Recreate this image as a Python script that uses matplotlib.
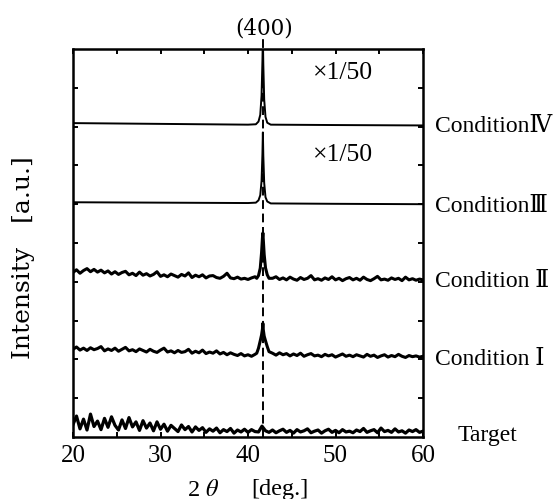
import numpy as np
import matplotlib
matplotlib.use('Agg')
import matplotlib.pyplot as plt

plt.rcParams['font.family'] = ['Liberation Serif', 'DejaVu Serif', 'Noto Sans CJK JP']
plt.rcParams['mathtext.fontset'] = 'stix'

# 2theta grid for the noisy scans (0.4 deg steps, 20..60)
gridTheta = np.arange(101) * 0.4 + 20.0

condII = [42.4, 43.1, 42.2, 42.9, 43.4, 42.6, 43.2, 42.5, 43.0, 42.3,
          42.8, 42.0, 42.6, 41.9, 42.4, 42.7, 41.8, 42.2, 41.6, 42.5,
          41.7, 42.1, 41.5, 41.9, 42.6, 41.4, 41.8, 41.3, 42.0, 41.6,
          41.2, 41.9, 41.5, 42.3, 41.1, 41.7, 41.3, 41.8, 41.0, 41.5,
          41.6, 41.1, 40.9, 41.4, 42.2, 41.0, 40.8, 41.2, 40.7, 40.9,
          40.6, 41.0, 41.3,
          40.8, 40.9, 40.7, 40.8,
          40.9, 41.3, 40.6,
          41.0, 40.5, 41.2, 40.7, 40.4, 41.1, 40.6, 40.9, 41.6, 40.5,
          40.8, 40.4, 41.0, 40.6, 41.3, 40.5, 40.9, 40.3, 40.8, 41.1,
          40.5, 40.9, 40.4, 41.2, 40.6, 40.3, 40.8, 41.4, 40.5, 40.7,
          40.4, 41.0, 40.6, 40.9, 40.3, 41.2, 40.5, 40.8, 40.4, 40.7, 40.5]

condI = [22.6, 23.2, 22.4, 22.9, 22.3, 23.0, 22.5, 22.8, 23.3, 22.2,
         22.7, 22.3, 22.9, 22.1, 22.6, 23.1, 22.2, 22.5, 22.0, 22.7,
         22.3, 21.9, 22.6, 22.1, 21.8, 22.4, 22.9, 21.9, 22.2, 21.7,
         22.3, 21.8, 22.0, 22.6, 21.6, 22.1, 21.7, 22.4, 21.5, 21.9,
         21.6, 22.2, 21.4, 21.8, 21.2, 21.7, 21.3, 21.0, 21.5, 20.9,
         21.2, 20.8, 21.3,
         22.0, 22.0, 22.0, 22.0,
         21.6, 21.1, 21.7,
         21.2, 21.5, 20.9, 21.4, 21.0, 21.6, 20.8, 21.2, 21.5, 20.9,
         21.1, 20.7, 21.3, 20.9, 21.2, 20.6, 21.0, 21.4, 20.8, 21.1,
         20.7, 21.2, 20.9, 20.6, 21.3, 20.8, 21.1, 20.5, 20.9, 21.2,
         20.6, 21.0, 20.7, 21.3, 20.8, 20.5, 21.0, 20.7, 20.9, 20.6, 20.8]

target = [3.2, 5.4, 2.1, 4.6, 1.8, 5.9, 2.7, 4.1, 1.9, 4.8,
          2.5, 5.2, 3.0, 1.8, 4.4, 2.2, 5.0, 2.6, 3.9, 1.7,
          4.2, 2.3, 3.6, 1.6, 3.9, 2.0, 3.3, 1.5, 3.0, 2.2,
          1.4, 3.1, 1.9, 2.7, 1.3, 2.6, 1.7, 2.4, 1.2, 2.1,
          1.5, 2.3, 1.1, 1.9, 1.4, 2.2, 1.0, 1.8, 1.3, 2.0,
          1.2, 1.9, 1.4,
          1.3, 2.8, 1.6, 1.2,
          1.8, 1.1, 1.6,
          2.0, 1.2, 1.7, 1.0, 1.9, 1.3, 1.6, 2.1, 1.1, 1.5,
          1.8, 1.0, 1.6, 2.0, 1.2, 1.7, 1.1, 1.9, 1.3, 1.5,
          1.1, 1.8, 1.4, 2.2, 1.2, 1.6, 1.9, 1.1, 2.3, 1.4,
          1.7, 1.2, 2.1, 1.3, 1.6, 1.0, 1.8, 1.4, 1.9, 1.2, 1.5]

# (400) peak region, finer sampling
peakTheta = [41.0, 41.2, 41.4, 41.55, 41.65, 41.7, 41.75, 41.85, 42.0, 42.2, 42.4]
peakII = [40.9, 41.6, 43.5, 47.5, 51.3, 52.6, 50.8, 47.0, 43.6, 41.8, 40.9]
peakI = [21.6, 22.9, 24.8, 26.3, 27.8, 29.3, 27.6, 26.0, 24.8, 23.3, 22.0]

# smooth scans (already scaled x1/50)
smoothTheta = [20, 30, 40, 40.9, 41.2, 41.4, 41.55, 41.65, 41.7, 41.75, 41.85, 42.0, 42.2, 42.6, 50, 60]
condIV = [80.9, 80.7, 80.5, 80.6, 81.3, 83.0, 88.0, 97.0, 103.0, 96.0, 87.0, 82.5, 81.0, 80.5, 80.4, 80.3]
condIII = [60.5, 60.4, 60.3, 60.4, 61.0, 62.3, 66.0, 73.0, 78.5, 72.5, 65.5, 61.8, 60.7, 60.2, 60.1, 60.0]

peak400 = 41.7
seriesLabels = ['Condition\u2163', 'Condition\u2162', 'Condition \u2161', 'Condition \u2160', 'Target']
xTicks = [20, 25, 30, 35, 40, 45, 50, 55, 60]
xTickLabels = ['20', '', '30', '', '40', '', '50', '', '60']


def withPeak(grid, values, px, py):
    # swap the coarse grid points under the peak for the fine ones
    grid = np.asarray(grid)
    values = np.asarray(values)
    keep = (grid < px[0] - 0.05) | (grid > px[-1] + 0.05)
    x = np.concatenate([grid[keep], px])
    y = np.concatenate([values[keep], py])
    order = np.argsort(x)
    return x[order], y[order]


fig = plt.figure(figsize=(5.55, 4.99), dpi=100)
ax = fig.add_axes([73/555, 62/499, 350/555, 388/499])

ax.plot(smoothTheta, condIV, color='black', lw=1.4)
ax.plot(smoothTheta, condIII, color='black', lw=1.4)
x, y = withPeak(gridTheta, condII, peakTheta, peakII)
ax.plot(x, y, color='black', lw=2.2)
x, y = withPeak(gridTheta, condI, peakTheta, peakI)
ax.plot(x, y, color='black', lw=2.2)
ax.plot(gridTheta, target, color='black', lw=2.3)

ax.plot([peak400, peak400], [0, 103.2], color='black', lw=1.4,
        dashes=(4.5, 2.4), clip_on=False)

ax.set_xlim(20, 60)
ax.set_ylim(0, 100)
ax.set_xticks(xTicks)
ax.set_xticklabels(xTickLabels, fontsize=18)
ax.set_yticks(np.arange(10, 100, 10))
ax.set_yticklabels([])
ax.tick_params(direction='in', top=True, right=True, length=3.5, width=1.4, pad=6)
for s in ax.spines.values():
    s.set_linewidth(1.8)

yTrans = ax.get_yaxis_transform()
labelY = [80, 59.5, 40, 20]
for lab, ly in zip(seriesLabels[:4], labelY):
    ax.text(1.034, ly, lab, transform=yTrans, va='center', ha='left', fontsize=17)
ax.text(1.10, 0.5, seriesLabels[4], transform=yTrans, va='center', ha='left', fontsize=17)

ax.text(47.4, 93.8, '\u00d71/50', va='center', ha='left', fontsize=18.5)
ax.text(47.4, 72.7, '\u00d71/50', va='center', ha='left', fontsize=18.5)
ax.text(peak400 + 0.1, 105.4, '(400)', va='center', ha='center', fontsize=15.5,
        family='DejaVu Serif', clip_on=False)

fig.text(24/555, 1 - 258/499, 'Intensity   [a.u.]', rotation=90, va='center',
         ha='center', fontsize=18, family='DejaVu Serif')
fig.text(203/555, 1 - 490/499, r'2 $\theta$', va='center', ha='center', fontsize=17.5)
fig.text(280/555, 1 - 490/499, '[deg.]', va='center', ha='center', fontsize=17.5)

fig.savefig('out.png', dpi=100)
